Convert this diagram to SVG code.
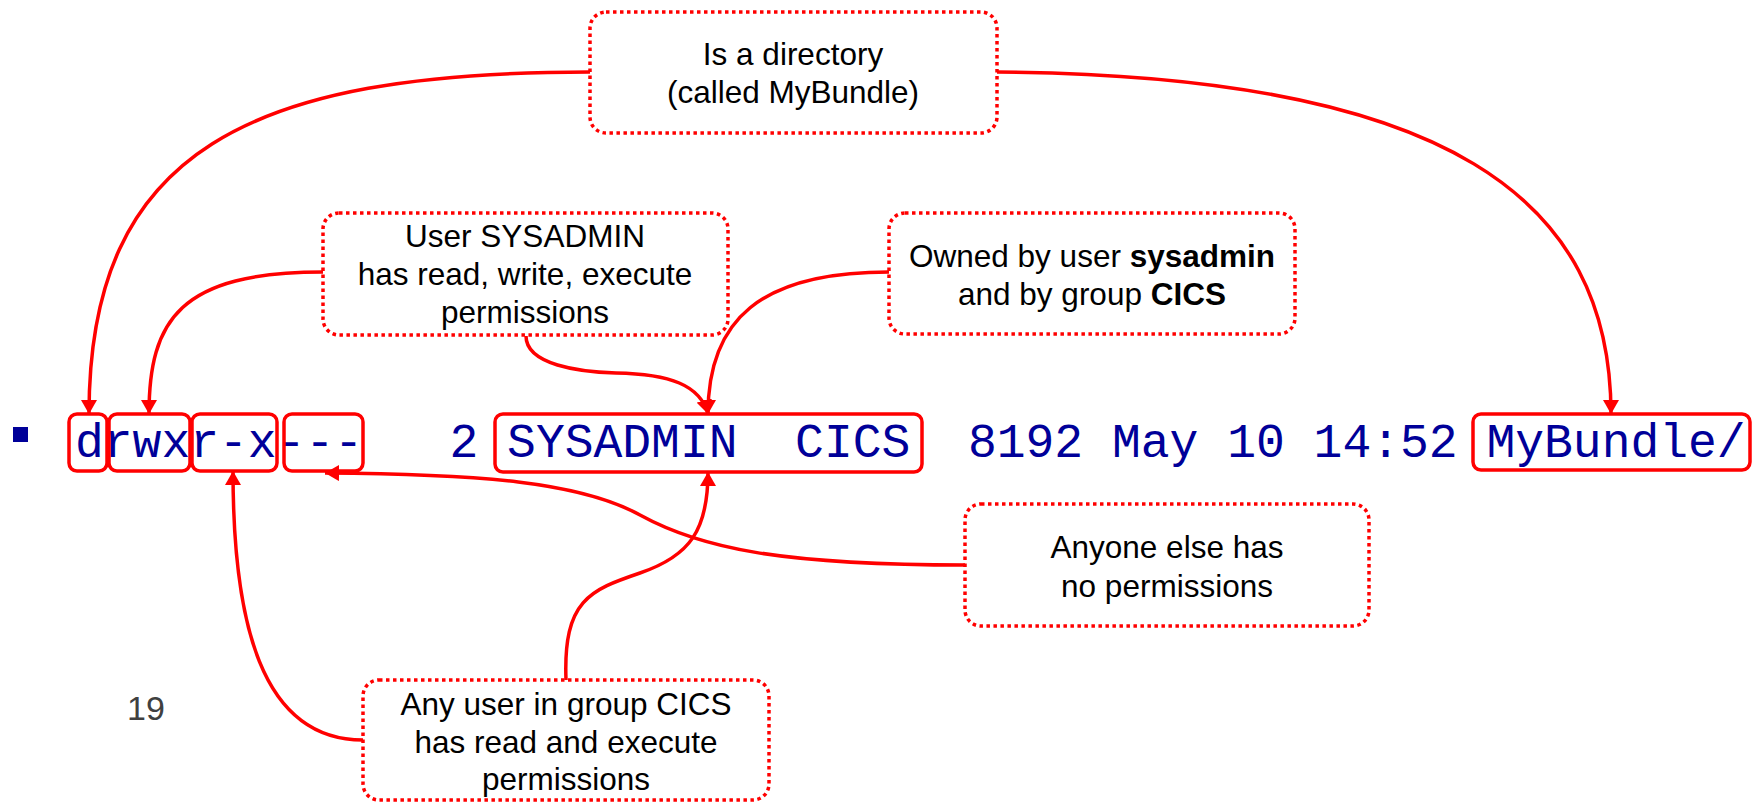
<svg xmlns="http://www.w3.org/2000/svg" width="1755" height="802" viewBox="0 0 1755 802">
<style>
.callout{fill:#fff;stroke:#ff0000;stroke-width:3.5;stroke-dasharray:3.5 3.5}
.hl{fill:none;stroke:#ff0000;stroke-width:3.5}
.conn{fill:none;stroke:#ff0000;stroke-width:3.5}
.lbl{font-family:"Liberation Sans",Arial,sans-serif;font-size:31.5px;fill:#000;text-anchor:middle}
.term{font-family:"Liberation Mono","Courier New",monospace;font-size:48px;fill:#000099}
</style>
<defs>
<marker id="arr" viewBox="0 0 14 16" markerWidth="14" markerHeight="16" refX="14" refY="8" orient="auto" markerUnits="userSpaceOnUse">
<path d="M0,0 L14,8 L0,16 z" fill="#ff0000"/>
</marker>
</defs>
<rect width="1755" height="802" fill="#fff"/>
<g id="terminal">
<rect x="13" y="427" width="15" height="15" fill="#000099"/>
<text class="term" x="75" y="457" xml:space="preserve">drwxr-x---   2 SYSADMIN  CICS  8192 May 10 14:52 MyBundle/</text>
<rect class="hl" x="69" y="414" width="38" height="57" rx="8"/>
<rect class="hl" x="109" y="414" width="81" height="57" rx="8"/>
<rect class="hl" x="192" y="414" width="85" height="57" rx="8"/>
<rect class="hl" x="284" y="414" width="79" height="57" rx="8"/>
<rect class="hl" x="495" y="414" width="427" height="58" rx="8"/>
<rect class="hl" x="1473" y="414" width="277" height="56" rx="8"/>
</g>
<g id="connectors">
<path class="conn" marker-end="url(#arr)" d="M590,72 C250,72 89,150 89,414"/>
<path class="conn" marker-end="url(#arr)" d="M997,72 C1450,75 1611,200 1611,414"/>
<path class="conn" marker-end="url(#arr)" d="M323,272 C180,272 149,320 149,414"/>
<path class="conn" marker-end="url(#arr)" d="M526,336 C526,365 580,372 616,373 C670,374 700,385 708,414"/>
<path class="conn" marker-end="url(#arr)" d="M889,272 C760,272 708,320 708,414"/>
<path class="conn" marker-end="url(#arr)" d="M965,565 C780,565 700,548 640,515 C580,482 480,474 325,473"/>
<path class="conn" marker-end="url(#arr)" d="M566,680 C563,600 590,590 640,573 C690,556 708,530 708,472"/>
<path class="conn" marker-end="url(#arr)" d="M363,740 C260,740 233,620 233,471"/>
</g>
<g id="directory">
<rect class="callout" x="590" y="12" width="407" height="121" rx="16"/>
<text class="lbl" x="793" y="65">Is a directory</text>
<text class="lbl" x="793" y="103">(called MyBundle)</text>
</g>
<g id="user">
<rect class="callout" x="323" y="213" width="405" height="122" rx="16"/>
<text class="lbl" x="525" y="247">User SYSADMIN</text>
<text class="lbl" x="525" y="285">has read, write, execute</text>
<text class="lbl" x="525" y="323">permissions</text>
</g>
<g id="owner">
<rect class="callout" x="889" y="213" width="406" height="121" rx="16"/>
<text class="lbl" x="1092" y="267">Owned by user <tspan font-weight="bold">sysadmin</tspan></text>
<text class="lbl" x="1092" y="305">and by group <tspan font-weight="bold">CICS</tspan></text>
</g>
<g id="others">
<rect class="callout" x="965" y="504" width="404" height="122" rx="16"/>
<text class="lbl" x="1167" y="558">Anyone else has</text>
<text class="lbl" x="1167" y="597">no permissions</text>
</g>
<g id="group">
<rect class="callout" x="363" y="680" width="406" height="120" rx="16"/>
<text class="lbl" x="566" y="715">Any user in group CICS</text>
<text class="lbl" x="566" y="753">has read and execute</text>
<text class="lbl" x="566" y="790">permissions</text>
</g>
<g id="page">
<text x="127" y="720" font-family="Liberation Sans, Arial, sans-serif" font-size="34" fill="#404040">19</text>
</g>
</svg>
